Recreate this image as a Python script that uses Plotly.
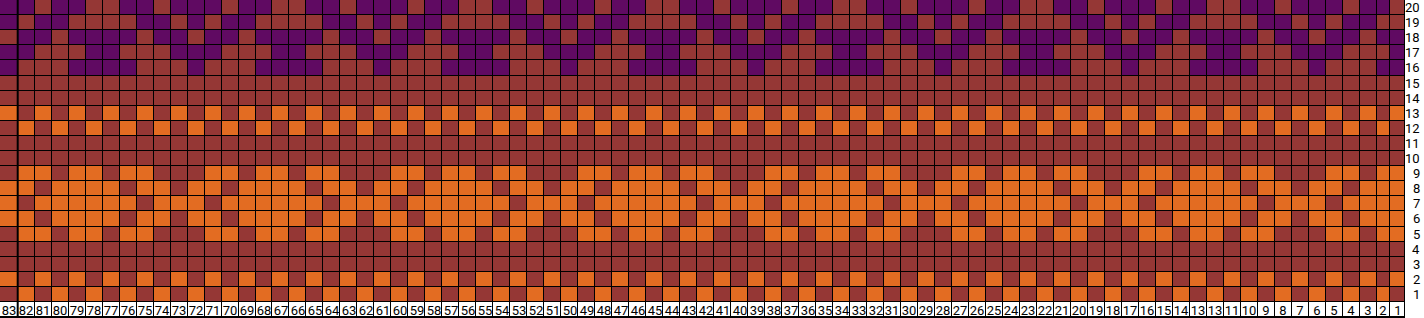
import plotly.graph_objects as go

# ---------------- data ----------------
# Column labels, left to right (as printed in the chart, including the duplicated "13")
COLUMN_LABELS = ["83", "82", "81", "80", "79", "78", "77", "76", "75", "74", "73", "72",
                 "71", "70", "69", "68", "67", "66", "65", "64", "63", "62", "61", "60",
                 "59", "58", "57", "56", "55", "54", "53", "52", "51", "50", "49", "48",
                 "47", "46", "45", "44", "43", "42", "41", "40", "39", "38", "37", "36",
                 "35", "34", "33", "32", "31", "30", "29", "28", "27", "26", "25", "24",
                 "23", "22", "21", "20", "19", "18", "17", "16", "15", "14", "13", "13",
                 "11", "10", "9", "8", "7", "6", "5", "4", "3", "2", "1"]

# Row labels, bottom to top
ROW_LABELS = ["1", "2", "3", "4", "5", "6", "7", "8", "9", "10",
              "11", "12", "13", "14", "15", "16", "17", "18", "19", "20"]

# Cell colours per row, top (row 20) to bottom (row 1), columns 83 -> 1.
# P = purple, R = brick red, O = orange (spaces only group the cells for reading)
CHART_ROWS = [
    "PPRPPRRPPRP PPRPPRRPPRP PPRPPRRPPRP PPRPPRRPPRP PPRPPRRPPRP PPRPPRRPPRP PPRPPRRPPRP PPRPPR",  # 20
    "PRPPRRRRPPR PRPPRRRRPPR PRPPRRRRPPR PRPPRRRRPPR PRPPRRRRPPR PRPPRRRRPPR PRPPRRRRPPR PRPPRR",  # 19
    "RPPRPPPPRPP RPPRPPPPRPP RPPRPPPPRPP RPPRPPPPRPP RPPRPPPPRPP RPPRPPPPRPP RPPRPPPPRPP RPPRPP",  # 18
    "PPRRRPPRRRP PPRRRPPRRRP PPRRRPPRRRP PPRRRPPRRRP PPRRRPPRRRP PPRRRPPRRRP PPRRRPPRRRP PPRRRP",  # 17
    "PRRRPPPPRRR PRRRPPPPRRR PRRRPPPPRRR PRRRPPPPRRR PRRRPPPPRRR PRRRPPPPRRR PRRRPPPPRRR PRRRPP",  # 16
    "RRRRRRRRRRR RRRRRRRRRRR RRRRRRRRRRR RRRRRRRRRRR RRRRRRRRRRR RRRRRRRRRRR RRRRRRRRRRR RRRRRR",  # 15
    "RRRRRRRRRRR RRRRRRRRRRR RRRRRRRRRRR RRRRRRRRRRR RRRRRRRRRRR RRRRRRRRRRR RRRRRRRRRRR RRRRRR",  # 14
    "ORORORORORO ROROROROROR ORORORORORO ROROROROROR ORORORORORO ROROROROROR ORORORORORO RORORO",  # 13
    "ROROROROROR ORORORORORO ROROROROROR ORORORORORO ROROROROROR ORORORORORO ROROROROROR OROROR",  # 12
    "RRRRRRRRRRR RRRRRRRRRRR RRRRRRRRRRR RRRRRRRRRRR RRRRRRRRRRR RRRRRRRRRRR RRRRRRRRRRR RRRRRR",  # 11
    "RRRRRRRRRRR RRRRRRRRRRR RRRRRRRRRRR RRRRRRRRRRR RRRRRRRRRRR RRRRRRRRRRR RRRRRRRRRRR RRRRRR",  # 10
    "ROOROOROORR ROOROOROORR ROOROOROORR ROOROOROORR ROOROOROORR ROOROOROORR ROOROOROORR ROOROO",  # 9
    "OOROOOOROOR OOROOOOROOR OOROOOOROOR OOROOOOROOR OOROOOOROOR OOROOOOROOR OOROOOOROOR OOROOO",  # 8
    "OROOOOOOROO OROOOOOOROO OROOOOOOROO OROOOOOOROO OROOOOOOROO OROOOOOOROO OROOOOOOROO OROOOO",  # 7
    "OOROOOOROOR OOROOOOROOR OOROOOOROOR OOROOOOROOR OOROOOOROOR OOROOOOROOR OOROOOOROOR OOROOO",  # 6
    "ROOROOROORR ROOROOROORR ROOROOROORR ROOROOROORR ROOROOROORR ROOROOROORR ROOROOROORR ROOROO",  # 5
    "RRRRRRRRRRR RRRRRRRRRRR RRRRRRRRRRR RRRRRRRRRRR RRRRRRRRRRR RRRRRRRRRRR RRRRRRRRRRR RRRRRR",  # 4
    "RRRRRRRRRRR RRRRRRRRRRR RRRRRRRRRRR RRRRRRRRRRR RRRRRRRRRRR RRRRRRRRRRR RRRRRRRRRRR RRRRRR",  # 3
    "ORORORORORO ROROROROROR ORORORORORO ROROROROROR ORORORORORO ROROROROROR ORORORORORO RORORO",  # 2
    "ROROROROROR ORORORORORO ROROROROROR ORORORORORO ROROROROROR ORORORORORO ROROROROROR OROROR",  # 1
]

# ---------------- style / layout ----------------
COLORS = {"R": "#953735", "O": "#E36C22", "P": "#600A62"}
CODE = {"R": 1, "O": 2, "P": 3}
LABEL_CODE = 0

FIG_W, FIG_H = 1424, 318
ROW_PX = 15.1
COL_PX_FIRST = 17.7
COL_PX_STD = 16.985
COL_PX_LAST_TWO = [13.4, 15.0]
FONT = "Liberation Sans Narrow, Roboto, Arial, sans-serif"
FONT_SIZE = 13

n_cols = len(COLUMN_LABELS)
widths = [COL_PX_FIRST] + [COL_PX_STD] * (n_cols - 3) + COL_PX_LAST_TWO
x_edges = [0.0]
for w in widths:
    x_edges.append(x_edges[-1] + w)
plot_w = x_edges[-1]

rows = [r.replace(" ", "") for r in CHART_ROWS]
rows_bottom_up = rows[::-1]

z = [[LABEL_CODE] * n_cols]
text = [list(COLUMN_LABELS)]
for r in rows_bottom_up:
    z.append([CODE[c] for c in r])
    text.append([""] * n_cols)

n_rows = len(z)
y_edges = list(range(n_rows + 1))

colorscale = [
    [0.0, "#FFFFFF"], [0.25, "#FFFFFF"],
    [0.25, COLORS["R"]], [0.5, COLORS["R"]],
    [0.5, COLORS["O"]], [0.75, COLORS["O"]],
    [0.75, COLORS["P"]], [1.0, COLORS["P"]],
]

fig = go.Figure()
fig.add_trace(go.Heatmap(
    z=z, x=x_edges, y=y_edges,
    text=text, texttemplate="%{text}",
    textfont=dict(family=FONT, size=FONT_SIZE, color="#000000"),
    colorscale=colorscale, zmin=0, zmax=3, showscale=False,
    xgap=1, ygap=1, hoverinfo="skip",
))

# thick separator after the first column
fig.add_shape(type="line", x0=x_edges[1], x1=x_edges[1], y0=0, y1=n_rows,
              xref="x", yref="y", line=dict(color="#000000", width=2))

# row labels on the right, right-aligned
for i, lab in enumerate(ROW_LABELS):
    fig.add_annotation(
        x=1 + 16.5 / plot_w, xref="paper", xanchor="right",
        y=i + 1.5, yref="y", yanchor="middle",
        text=lab, showarrow=False,
        font=dict(family=FONT, size=FONT_SIZE, color="#000000"),
    )

y_top = n_rows
y_bottom = y_top - FIG_H / ROW_PX
fig.update_layout(
    width=FIG_W, height=FIG_H, autosize=False,
    margin=dict(l=0, r=FIG_W - plot_w, t=0, b=0, pad=0),
    paper_bgcolor="#FFFFFF", plot_bgcolor="#000000",
    xaxis=dict(range=[0, plot_w], visible=False, fixedrange=True),
    yaxis=dict(range=[y_bottom, y_top], visible=False, fixedrange=True),
    showlegend=False,
)

fig.write_html("out.html", config={"displayModeBar": False})
